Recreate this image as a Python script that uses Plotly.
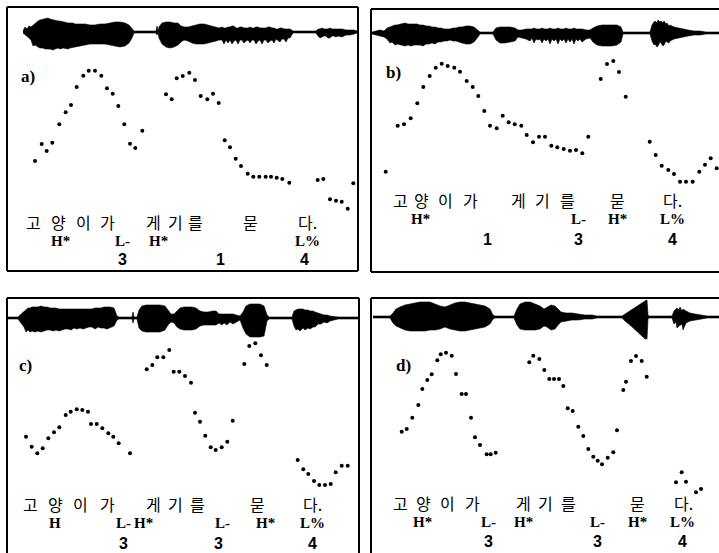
import plotly.graph_objects as go

# ---------------- data ----------------
# pitch-track points: time position and F0 position for each panel
a_t = [35, 41.7, 46.7, 52.3, 59.3, 65.7, 71, 76.7, 83.3, 88.7, 95, 101.3, 107, 112.7, 118.3, 124.3, 130, 135.3, 142.3,
       166, 171.7, 176.7, 182.7, 189.3, 195, 200.7, 207.3, 213, 218.7,
       224.7, 230, 235.7, 241, 247.7, 253.3, 259.3, 265.7, 271, 276.7, 282.3, 289.3,
       317.7, 323.3, 330, 336, 341.7, 347.7, 353.3]
a_f0 = [161, 144, 151, 142.7, 124.3, 112.3, 105, 87, 75.7, 70.7, 70.7, 75.7, 88.3, 93.7, 106, 124.3, 143.7, 148, 130.7,
        94.3, 99.3, 78.3, 76, 72.7, 80, 96, 99.3, 93.7, 103,
        140.3, 147.3, 158.7, 166, 173.7, 176.7, 176.7, 176.7, 176.7, 177.7, 179, 182.7,
        180, 179, 199.3, 200.7, 201.7, 208.7, 183.3]

b_t = [385.7, 397.7, 404, 410.7, 417.3, 423.3, 429.7, 435.7, 441.7, 447.7, 454.3, 460, 466.7, 472.7, 478.3, 484.3,
       490, 496.7, 502.7, 508.7, 514.7, 521.3, 526.7, 533, 539, 545, 551.3, 557.3, 563.7, 570, 576, 582.3, 588.3,
       600.7, 607, 613.3, 619, 625.7,
       649.7, 655.7, 661.7, 668.3, 674, 680, 686, 692.7, 699.3, 705, 710.7, 716.7]
b_f0 = [171.7, 125.7, 124.3, 118.3, 103.3, 87, 76, 67.7, 63.7, 66, 67.7, 71.7, 81, 87, 96, 111,
        125.7, 128.3, 115.7, 122.3, 124.3, 125.7, 135, 142.3, 136.7, 136.7, 145.7, 147.3, 149, 150.7, 150, 153.3, 136.7,
        79, 64, 61, 72, 96.7,
        141.7, 155, 165.7, 170, 174, 181.7, 181.7, 181.7, 171.7, 164.7, 158.3, 168.3]

c_t = [26, 31.7, 37.3, 42.7, 48.3, 54, 59.3, 65.7, 70.7, 76.7, 82.3, 88, 91, 96.7, 102.3, 108.3, 113.3, 118.7, 130,
       146.7, 152.3, 157.3, 163.3, 169.3, 173.7, 179.3, 185, 191,
       195, 200, 205.3, 210.7, 215.7, 221.7, 227.3, 232.7,
       244.3, 249.3, 255.3, 261, 266.7,
       297.7, 303.3, 308.3, 314, 319.3, 325, 330.7, 335.7, 341.7, 347.7]
c_f0 = [436.7, 446.7, 453.3, 448.3, 438.3, 432.3, 427.3, 415, 411.7, 409.3, 410, 411.7, 424, 424, 428.3, 433.3, 436.7, 443.3, 453.3,
        369.3, 365, 357.3, 357.3, 350, 371.7, 371.7, 376, 382.7,
        412.7, 421.7, 435.7, 447.3, 450, 447.3, 441.7, 420.7,
        364, 346, 343.3, 355.3, 365,
        460, 469.3, 474, 481, 485, 485, 484, 472.3, 465.7, 465.7]

d_t = [401.7, 406.7, 412.3, 418.3, 422.3, 427.3, 431.7, 437.3, 440.7, 446, 451.7, 456, 461.7, 466, 471, 475, 480, 486.7, 490.7, 495.7,
       529.3, 533.3, 539.3, 544.3, 549.3, 554, 559, 563.3, 567.7, 572.7, 578.3, 583.3, 588.3, 593.3, 597.7, 602, 607.7, 613.3, 617,
       623.3, 626, 631, 636, 641.7, 646.7,
       676, 681.7, 686, 696, 701]
d_f0 = [431.7, 429, 417.7, 405, 389, 380, 374.3, 360.3, 354.3, 352.7, 355.7, 374, 394, 394, 417.7, 437.3, 445, 454.3, 454.3, 452.7,
        362.3, 355.7, 359, 370, 379, 379, 379, 386, 408.3, 411, 426.7, 436, 449, 456.7, 460.7, 464.3, 457.7, 452.3, 430.3,
        390, 381.7, 361, 356, 361, 376.7,
        482.3, 472.3, 481.7, 492.3, 489]

# waveform envelopes: (time, amplitude above, amplitude below)
a_env = [(23, 1, 1), (25, 5, 3), (27, 3, 4), (29, 6, 6), (31, 5, 8), (33, 7, 14), (35, 9, 13), (38, 11, 15), (40, 12, 16),
         (43, 13, 16), (45, 13, 17), (48, 14, 17), (50, 13, 17), (53, 12, 18), (55, 12, 17), (58, 11, 16), (60, 11, 17),
         (63, 10, 16), (65, 10, 16), (68, 9, 17), (70, 9, 16), (73, 9, 15), (75, 8, 15), (78, 8, 14), (80, 8, 14),
         (85, 8, 13), (90, 7, 12), (95, 7, 12), (100, 8, 12), (105, 8, 12), (110, 9, 13), (115, 10, 14), (120, 10, 15),
         (125, 9, 14), (129, 7, 11), (132, 4, 6), (134, 1, 1), (156, 1, 1), (157, 6, 3), (158, 1, 1), (159, 5, 6),
         (162, 9, 12), (166, 10, 15), (170, 10, 16), (174, 9, 15), (178, 9, 13), (181, 6, 10), (184, 5, 8), (188, 5, 9),
         (192, 6, 11), (196, 7, 12), (200, 8, 12), (204, 8, 12), (208, 7, 11), (212, 6, 10), (216, 5, 9), (219, 4, 8),
         (222, 5, 8), (224, 4, 12), (226, 4, 8), (228, 5, 11), (230, 5, 8), (232, 6, 12), (234, 6, 9), (236, 4, 8),
         (238, 4, 12), (240, 5, 8), (242, 5, 8), (244, 4, 11), (246, 4, 9), (248, 4, 8), (250, 5, 11), (252, 4, 8),
         (254, 4, 8), (256, 5, 12), (258, 5, 9), (260, 4, 8), (262, 4, 12), (264, 4, 8), (266, 4, 8), (268, 5, 11),
         (270, 5, 9), (272, 4, 8), (274, 4, 11), (276, 3, 7), (278, 3, 8), (280, 4, 10), (282, 4, 7), (284, 3, 7),
         (286, 3, 10), (288, 3, 6), (290, 3, 6), (293, 1, 1), (316, 1, 1), (318, 3, 4), (320, 3, 6), (322, 4, 5),
         (324, 3, 4), (326, 3, 4), (328, 3, 6), (330, 4, 6), (332, 3, 4), (334, 3, 4), (336, 3, 5), (338, 3, 4),
         (342, 3, 5), (346, 2, 3), (350, 2, 3), (354, 2, 2), (357, 1, 1)]
b_env = [(372, 1, 1), (376, 2, 2), (380, 3, 3), (384, 2, 4), (387, 5, 6), (390, 6, 10), (392, 7, 9), (395, 8, 12),
         (397, 8, 11), (400, 9, 12), (402, 9, 12), (405, 10, 13), (408, 9, 12), (411, 9, 13), (414, 9, 12), (417, 9, 12),
         (420, 8, 12), (423, 8, 13), (426, 7, 11), (429, 7, 11), (432, 6, 10), (435, 6, 11), (438, 5, 9), (441, 5, 9),
         (444, 4, 8), (447, 4, 8), (450, 4, 7), (453, 5, 8), (456, 5, 8), (459, 6, 9), (462, 6, 10), (466, 7, 11),
         (470, 7, 11), (474, 6, 9), (478, 3, 4), (480, 1, 1), (493, 1, 1), (496, 5, 7), (500, 6, 10), (505, 6, 10),
         (510, 6, 9), (515, 5, 8), (518, 3, 4), (522, 3, 5), (526, 4, 6), (530, 4, 8), (532, 4, 5), (534, 5, 10),
         (536, 4, 6), (538, 4, 7), (540, 4, 6), (542, 5, 10), (544, 4, 6), (546, 4, 8), (548, 4, 6), (550, 5, 11),
         (552, 4, 6), (554, 4, 8), (556, 4, 6), (558, 5, 11), (560, 4, 6), (562, 4, 8), (564, 4, 6), (566, 5, 10),
         (568, 4, 6), (570, 4, 9), (572, 4, 6), (574, 5, 11), (576, 4, 6), (578, 4, 8), (580, 4, 6), (582, 4, 9),
         (586, 3, 6), (590, 3, 5), (593, 5, 9), (597, 7, 12), (602, 8, 13), (607, 8, 13), (612, 8, 13), (617, 8, 12),
         (621, 6, 9), (623, 1, 1), (650, 1, 1), (652, 8, 8), (654, 11, 12), (655, 12, 11), (657, 10, 14), (658, 13, 13),
         (660, 11, 9), (661, 12, 10), (663, 10, 13), (664, 12, 12), (666, 9, 8), (667, 10, 9), (669, 7, 10), (670, 8, 8),
         (674, 6, 6), (678, 5, 5), (682, 4, 4), (688, 3, 3), (694, 2, 2), (700, 2, 2), (706, 1, 1), (719, 1, 1)]
c_env = [(7, 1, 1), (18, 1, 1), (20, 3, 4), (24, 7, 9), (26, 9, 14), (28, 10, 12), (30, 10, 14), (32, 11, 13),
         (35, 11, 14), (38, 11, 13), (41, 12, 14), (44, 11, 13), (47, 11, 12), (50, 10, 12), (53, 10, 13), (56, 10, 12),
         (59, 9, 13), (62, 9, 12), (65, 9, 11), (68, 9, 11), (71, 9, 12), (74, 9, 10), (77, 9, 11), (80, 9, 10),
         (83, 9, 11), (86, 9, 10), (89, 9, 9), (92, 9, 9), (95, 10, 11), (98, 10, 9), (101, 10, 10), (104, 11, 10),
         (107, 11, 11), (110, 11, 10), (114, 10, 8), (117, 2, 2), (119, 1, 1), (132, 1, 1), (133, 6, 5), (134, 1, 1),
         (137, 1, 1), (139, 8, 10), (142, 12, 13), (146, 13, 14), (150, 13, 14), (155, 13, 14), (160, 13, 14),
         (165, 12, 12), (168, 8, 7), (171, 4, 4), (174, 4, 5), (177, 7, 9), (180, 10, 11), (184, 11, 12), (188, 11, 12),
         (192, 11, 12), (196, 10, 11), (200, 7, 8), (204, 6, 7), (208, 6, 7), (213, 7, 7), (216, 7, 7), (219, 4, 5),
         (222, 4, 7), (224, 4, 5), (227, 4, 7), (230, 4, 4), (233, 4, 6), (236, 3, 4), (240, 2, 2), (243, 6, 10),
         (246, 12, 16), (250, 14, 19), (255, 14, 19), (260, 14, 19), (264, 12, 18), (267, 3, 3), (269, 1, 1),
         (292, 1, 1), (294, 7, 8), (296, 8, 12), (298, 9, 11), (300, 9, 13), (303, 9, 10), (305, 8, 12), (308, 8, 10),
         (310, 7, 11), (313, 7, 9), (315, 6, 9), (318, 5, 6), (321, 4, 6), (324, 3, 4), (327, 3, 5), (330, 2, 3),
         (338, 1, 1), (347, 1, 1), (359, 1, 1)]
d_env = [(373, 1, 1), (390, 1, 1), (393, 4, 6), (396, 8, 9), (400, 10, 11), (405, 12, 13), (410, 13, 14), (415, 14, 14),
         (420, 15, 14), (425, 15, 14), (430, 15, 13), (435, 13, 13), (440, 11, 12), (445, 10, 10), (450, 12, 12),
         (455, 14, 13), (460, 15, 14), (465, 15, 14), (470, 14, 13), (475, 13, 12), (480, 12, 11), (485, 11, 10),
         (490, 8, 7), (493, 2, 2), (495, 1, 1), (514, 1, 1), (517, 8, 8), (520, 13, 12), (525, 15, 13), (530, 15, 13),
         (535, 13, 13), (540, 11, 12), (544, 8, 9), (547, 10, 10), (551, 12, 13), (555, 11, 12), (558, 8, 8),
         (561, 5, 5), (566, 4, 4), (572, 4, 3), (578, 3, 3), (585, 2, 2), (592, 2, 2), (597, 1, 1), (622, 1, 1),
         (625, 3, 4), (630, 6, 8), (635, 10, 13), (640, 13, 17), (643, 15, 20), (645, 16, 22), (647, 17, 22),
         (648, 2, 2), (649, 1, 1), (672, 1, 1), (674, 6, 7), (676, 8, 5), (677, 9, 11), (679, 7, 9), (680, 10, 8),
         (682, 6, 7), (683, 8, 13), (686, 6, 6), (690, 4, 4), (695, 3, 3), (700, 2, 2), (707, 1, 1), (719, 1, 1)]

# text tiers
syllables = ["고", "양", "이", "가", "게", "기", "를", "묻", "다."]
a_syl_t = [33, 58, 83, 107, 153, 175, 195, 250, 307]
b_syl_t = [400, 421, 445, 470, 518, 542, 567, 617, 672]
c_syl_t = [30, 55, 80, 107, 153, 175, 197, 257, 312]
d_syl_t = [400, 423, 447, 472, 523, 545, 568, 637, 683]

a_tones = ["H*", "L-", "H*", "L%"]
a_tone_t = [60, 122, 158, 307]
b_tones = ["H*", "L-", "H*", "L%"]
b_tone_t = [420, 578, 617, 672]
c_tones = ["H", "L-", "H*", "L-", "H*", "L%"]
c_tone_t = [55, 123, 143, 222, 265, 312]
d_tones = ["H*", "L-", "H*", "L-", "H*", "L%"]
d_tone_t = [422, 488, 523, 597, 637, 682]

a_breaks = ["3", "1", "4"]
a_break_t = [122, 220, 304]
b_breaks = ["1", "3", "4"]
b_break_t = [487, 578, 672]
c_breaks = ["3", "3", "4"]
c_break_t = [123, 218, 312]
d_breaks = ["3", "3", "4"]
d_break_t = [488, 597, 682]

# ---------------- layout (pixel geometry of the panels) ----------------
W, H = 719, 553
panels = [
    dict(name="a)", box=(7, 358, 7, 271), center=32, rows=(222, 241, 258), label=(28, 77), right=True, bottom=True,
         t=a_t, f0=a_f0, env=a_env, syl=a_syl_t, tones=a_tones, tone_t=a_tone_t, br=a_breaks, br_t=a_break_t),
    dict(name="b)", box=(371, 719, 9, 272), center=33, rows=(200, 219, 238), label=(393, 72), right=False, bottom=True,
         t=b_t, f0=b_f0, env=b_env, syl=b_syl_t, tones=b_tones, tone_t=b_tone_t, br=b_breaks, br_t=b_break_t),
    dict(name="c)", box=(7, 359, 298, 553), center=318, rows=(504, 523, 542), label=(25, 365), right=True, bottom=False,
         t=c_t, f0=c_f0, env=c_env, syl=c_syl_t, tones=c_tones, tone_t=c_tone_t, br=c_breaks, br_t=c_break_t),
    dict(name="d)", box=(371, 719, 298, 553), center=317, rows=(503, 522, 540), label=(403, 365), right=False, bottom=False,
         t=d_t, f0=d_f0, env=d_env, syl=d_syl_t, tones=d_tones, tone_t=d_tone_t, br=d_breaks, br_t=d_break_t),
]

fig = go.Figure()
annotations = []
shapes = []
layout_axes = {}

for i, p in enumerate(panels, start=1):
    l, r, t, b = p["box"]
    sfx = "" if i == 1 else str(i)
    xr, yr = "x" + sfx, "y" + sfx
    layout_axes["xaxis" + sfx] = dict(domain=[l / W, r / W], range=[l, r], visible=False, fixedrange=True)
    layout_axes["yaxis" + sfx] = dict(domain=[1 - b / H, 1 - t / H], range=[b, t], visible=False, fixedrange=True)

    c = p["center"]
    ex = [e[0] for e in p["env"]]
    up = [c - e[1] for e in p["env"]]
    dn = [c + e[2] for e in p["env"]]
    # baseline
    fig.add_trace(go.Scatter(x=[ex[0], ex[-1]], y=[c, c], mode="lines", line=dict(color="black", width=1.5),
                             xaxis=xr, yaxis=yr, hoverinfo="skip", showlegend=False))
    # waveform envelope
    fig.add_trace(go.Scatter(x=ex + ex[::-1], y=up + dn[::-1], mode="lines", fill="toself",
                             fillcolor="black", line=dict(color="black", width=0.6),
                             xaxis=xr, yaxis=yr, hoverinfo="skip", showlegend=False))
    # pitch track
    fig.add_trace(go.Scatter(x=p["t"], y=p["f0"], mode="markers",
                             marker=dict(size=4, color="black", symbol="circle"),
                             xaxis=xr, yaxis=yr, showlegend=False))

    # panel label
    annotations.append(dict(x=p["label"][0], y=p["label"][1], xref=xr, yref=yr, text="<b>" + p["name"] + "</b>",
                            showarrow=False, borderpad=0,
                            font=dict(family="Liberation Serif", size=17, color="black")))
    # syllables
    for s, xs in zip(syllables, p["syl"]):
        annotations.append(dict(x=xs, y=p["rows"][0], xref=xr, yref=yr, text=s, showarrow=False, borderpad=0,
                                font=dict(family="Noto Sans CJK KR", size=16, color="black")))
    for s, xs in zip(p["tones"], p["tone_t"]):
        annotations.append(dict(x=xs, y=p["rows"][1], xref=xr, yref=yr, text="<b>" + s + "</b>", showarrow=False,
                                borderpad=0, font=dict(family="Liberation Serif", size=15, color="black")))
    for s, xs in zip(p["br"], p["br_t"]):
        annotations.append(dict(x=xs, y=p["rows"][2] + 1, xref=xr, yref=yr, text="<b>" + s + "</b>", showarrow=False,
                                borderpad=0, font=dict(family="Liberation Sans", size=16, color="black")))

    # frame
    line = dict(color="black", width=2)
    shapes.append(dict(type="line", xref="paper", yref="paper", x0=l / W, x1=r / W, y0=1 - t / H, y1=1 - t / H, line=line))
    shapes.append(dict(type="line", xref="paper", yref="paper", x0=l / W, x1=l / W, y0=1 - t / H, y1=1 - b / H, line=line))
    if p["bottom"]:
        shapes.append(dict(type="line", xref="paper", yref="paper", x0=l / W, x1=r / W, y0=1 - b / H, y1=1 - b / H, line=line))
    if p["right"]:
        shapes.append(dict(type="line", xref="paper", yref="paper", x0=r / W, x1=r / W, y0=1 - t / H, y1=1 - b / H, line=line))

fig.update_layout(width=W, height=H, margin=dict(l=0, r=0, t=0, b=0), paper_bgcolor="white", plot_bgcolor="white",
                  showlegend=False, annotations=annotations, shapes=shapes, **layout_axes)

fig.write_html("out.html", config={"displayModeBar": False},
               post_script="document.body.style.margin='0';document.body.style.overflow='hidden';")
